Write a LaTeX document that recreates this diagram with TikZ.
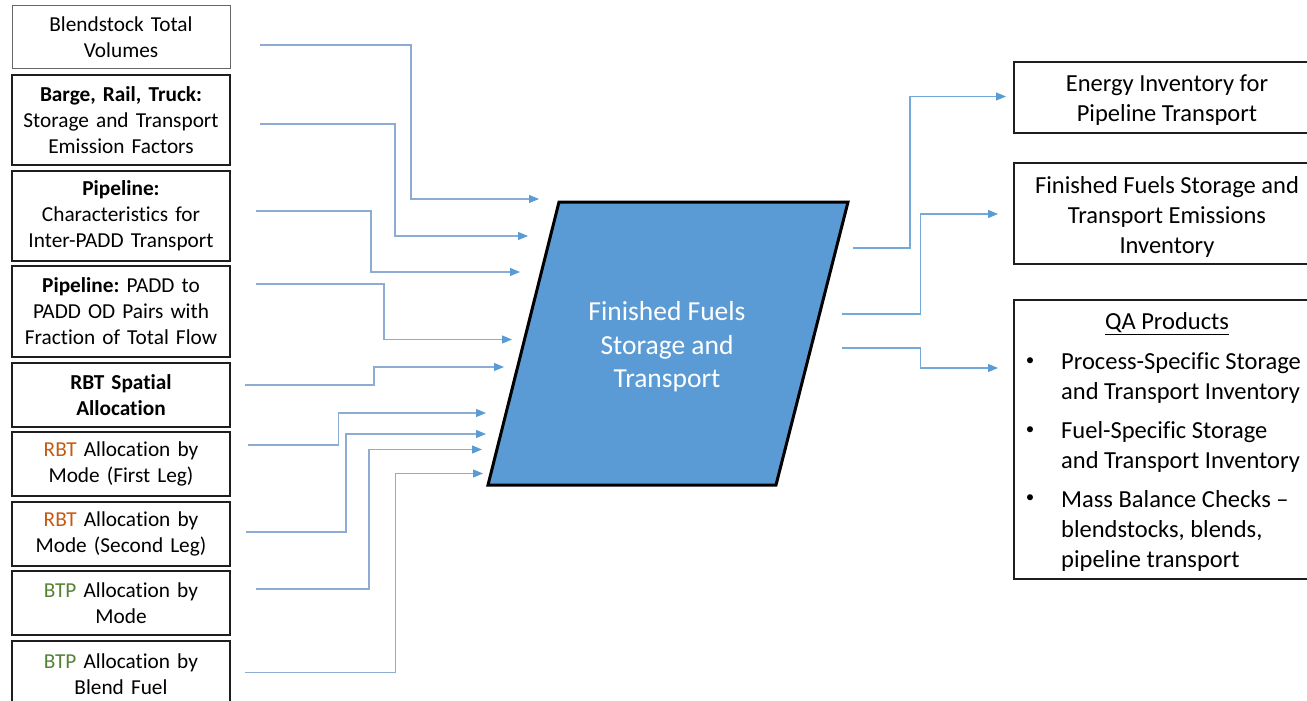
\documentclass[tikz,border=0pt]{standalone}
\usepackage{fontspec}
\setmainfont{Carlito}[Ligatures=CommonOff]
\usetikzlibrary{arrows.meta}
\definecolor{pblue}{HTML}{5B9BD5}
\definecolor{linec}{RGB}{140,172,212}
\definecolor{rbt}{HTML}{C55A11}
\definecolor{btp}{HTML}{548235}
\definecolor{bordc}{RGB}{30,30,30}
\tikzset{
  lbox/.style={draw=bordc, line width=1.8pt, minimum width=218pt, inner sep=0pt,
    text width=214pt, align=center, font=\fontsize{21.3}{26}\selectfont},
  lboxthin/.style={lbox, draw=black!60, line width=1pt},
  rbox/.style={draw=bordc, line width=1.4pt, minimum width=306pt, inner sep=0pt},
  rtext/.style={inner sep=0pt, font=\fontsize{24.5}{30}\selectfont},
  dot/.style={inner sep=0pt, font=\fontsize{17}{20}\selectfont},
  conn/.style={draw=linec, line width=1.1pt, -{Triangle[length=10pt,width=8pt,fill=pblue,color=pblue]}},
  outconn/.style={conn, draw=pblue!85},
}
\begin{document}
\frenchspacing
\begin{tikzpicture}[x=1pt,y=-1pt]
\useasboundingbox (0,0) rectangle (1307,701);
% left input boxes
\node[lboxthin, minimum height=63pt] (b1) at (121,37.5) {Blendstock Total\\Volumes};
\node[lbox, minimum height=90pt] (b2) at (121,120) {\textbf{Barge, Rail, Truck:}\\Storage and Transport\\Emission Factors};
\node[lbox, minimum height=90pt] (b3) at (121,216) {\textbf{Pipeline:}\\Characteristics for\\Inter-PADD Transport};
\node[lbox, minimum height=91pt] (b4) at (121,311.5) {\textbf{Pipeline:} PADD to\\PADD OD Pairs with\\Fraction of Total Flow};
\node[lbox, minimum height=64pt] (b5) at (121,395) {\textbf{RBT Spatial}\\\textbf{Allocation}};
\node[lbox, minimum height=64pt] (b6) at (121,464) {\textcolor{rbt}{RBT} Allocation by\\Mode (First Leg)};
\node[lbox, minimum height=64pt] (b7) at (121,534) {\textcolor{rbt}{RBT} Allocation by\\Mode (Second Leg)};
\node[lbox, minimum height=64pt] (b8) at (121,603) {\textcolor{btp}{BTP} Allocation by\\Mode};
\node[lbox, minimum height=66pt] (b9) at (121,674) {\textcolor{btp}{BTP} Allocation by\\Blend Fuel};
% central process
\coordinate (p1) at (559,202);
\coordinate (p2) at (848,202);
\coordinate (p3) at (776,485);
\coordinate (p4) at (488,485);
\draw[line width=3pt, fill=pblue, line join=miter] (p1) -- (p2) -- (p3) -- (p4) -- cycle;
\node[text=white, align=center, font=\fontsize{27.5}{33.5}\selectfont] (core) at (667,347) {Finished Fuels\\Storage and\\Transport};
% right output boxes
\node[rbox, minimum height=71pt] (o1) at (1167,97.5) {};
\node[rbox, minimum height=101pt] (o2) at (1167,213.5) {};
\node[rbox, minimum height=279pt] (o3) at (1167,439.5) {};
\node[rtext, align=center] (o1t) at (1167,100.5) {Energy Inventory for\\Pipeline Transport};
\node[rtext, align=center] (o2t) at (1167,216.5) {Finished Fuels Storage and\\Transport Emissions\\Inventory};
\node[rtext] (qat) at (1167,324) {\underline{QA Products}};
\node[dot] (d1) at (1030,362) {•};
\node[dot] (d2) at (1030,431) {•};
\node[dot] (d3) at (1030,499) {•};
\node[rtext, anchor=west, align=left] (q1) at (1061,378.5) {Process-Specific Storage\\and Transport Inventory};
\node[rtext, anchor=west, align=left] (q2) at (1061,447) {Fuel-Specific Storage\\and Transport Inventory};
\node[rtext, anchor=west, align=left] (q3) at (1061,530.5) {Mass Balance Checks –\\blendstocks, blends,\\pipeline transport};
% connector end points
\coordinate (s1) at (260,45);    \coordinate (e1) at (539,199);
\coordinate (s2) at (260,124);   \coordinate (e2) at (528,236);
\coordinate (s3) at (256,211);   \coordinate (e3) at (520,272);
\coordinate (s4) at (256,284);   \coordinate (e4) at (512,339.5);
\coordinate (s5) at (245,385);   \coordinate (e5) at (504,367);
\coordinate (s6) at (248,445);   \coordinate (e6) at (486,413);
\coordinate (s7) at (246,532);   \coordinate (e7) at (486,434);
\coordinate (s8) at (256,589);   \coordinate (e8) at (482,449.5);
\coordinate (s9) at (245,672.5); \coordinate (e9) at (483,473.5);
\coordinate (t1) at (853,248);   \coordinate (f1) at (1006,96.5);
\coordinate (t2) at (842,314);   \coordinate (f2) at (998,214);
\coordinate (t3) at (842,348);   \coordinate (f3) at (998,368);
% input connectors
\draw[conn] (s1) -- ++(151,0) |- (e1);
\draw[conn] (s2) -- ++(135,0) |- (e2);
\draw[conn] (s3) -- ++(115,0) |- (e3);
\draw[conn] (s4) -- ++(128,0) |- (e4);
\draw[conn] (s5) -- ++(129,0) |- (e5);
\draw[conn] (s6) -- ++(90.5,0) |- (e6);
\draw[conn] (s7) -- ++(100,0) |- (e7);
\draw[conn] (s8) -- ++(113,0) |- (e8);
\draw[conn] (s9) -- ++(150.5,0) |- (e9);
% output connectors
\draw[outconn] (t1) -- ++(57,0) |- (f1);
\draw[outconn] (t2) -- ++(78.5,0) |- (f2);
\draw[outconn] (t3) -- ++(78.5,0) |- (f3);
\end{tikzpicture}
\end{document}
